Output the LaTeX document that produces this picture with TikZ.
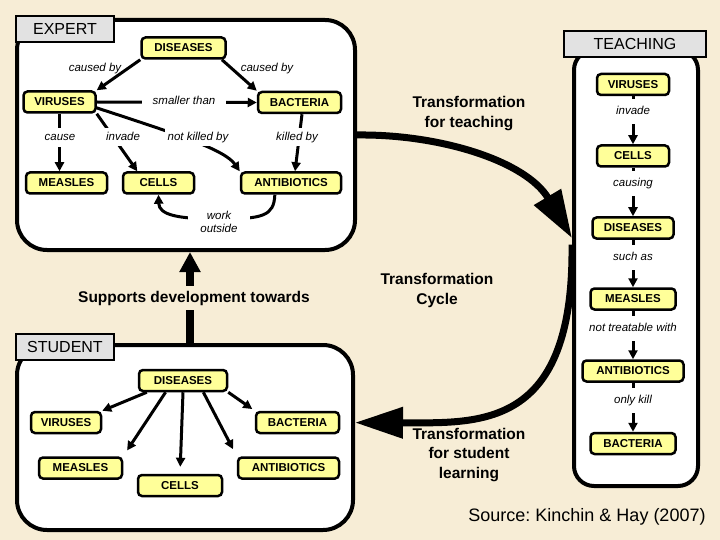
\documentclass[tikz,border=0pt]{standalone}
\usepackage{fontspec}
\setmainfont{Liberation Sans}
\usetikzlibrary{arrows.meta}
\definecolor{bg}{RGB}{247,237,214}
\definecolor{ylw}{RGB}{255,255,153}
\definecolor{gry}{RGB}{226,226,226}
\frenchspacing
\begin{document}
\begin{tikzpicture}[x=1pt,y=-1pt,
  box/.style={draw, line width=2.5pt, fill=ylw, rounded corners=4pt, minimum height=21pt, inner sep=0pt, font=\fontsize{11.5}{13}\selectfont\bfseries},
  panel/.style={draw, line width=4pt, fill=white, rounded corners=30pt, inner sep=0pt},
  ptitle/.style={draw, line width=2.5pt, fill=gry, minimum width=98pt, minimum height=26pt, inner sep=0pt, font=\fontsize{16}{18}\selectfont},
  labbase/.style={fill=white, inner xsep=3pt, inner ysep=3pt, font=\fontsize{11.5}{13}\selectfont\itshape},
  lab/.style={labbase, text height=9pt, text depth=2.5pt},
  tlab/.style={lab, inner ysep=7pt},
  arr/.style={line width=3pt, -{Triangle[length=9pt,width=9pt]}},
  bigarr/.style={line width=7pt, -{Triangle[length=48pt,width=30pt]}},
  bigtxt/.style={font=\fontsize{15.5}{19.5}\selectfont\bfseries, align=center},
]
\useasboundingbox (0,0) rectangle (720,540);
\fill[bg] (0,0) rectangle (720,540);

% panels
\node[panel, minimum width=338pt, minimum height=230pt] (expert) at (186,135) {};
\node[panel, minimum width=336pt, minimum height=185pt] (student) at (185,437.5) {};
\node[panel, rounded corners=20pt, minimum width=124pt, minimum height=436pt] (teach) at (636,268) {};
\node[ptitle] (exT) at (65,29) {EXPERT};
\node[ptitle] (stT) at (65,347) {STUDENT};
\node[ptitle, minimum width=142pt] (teT) at (635,44) {TEACHING};

% expert nodes
\node[box, minimum width=84pt] (eD) at (183.5,48) {DISEASES};
\node[box, minimum width=72pt] (eV) at (59.5,102) {VIRUSES};
\node[box, minimum width=83pt] (eB) at (299.5,102.5) {BACTERIA};
\node[box, minimum width=81pt] (eM) at (66.5,183) {MEASLES};
\node[box, minimum width=71pt] (eC) at (158.5,183) {CELLS};
\node[box, minimum width=100pt] (eA) at (291,183) {ANTIBIOTICS};

\draw[arr] (eD.south west) -- (eV.north east);
\draw[arr] (eD.-17) -- (eB.north west);
\draw[arr] (eV.east) -- (eB.west);
\draw[arr] (eV.south) -- (eV.south |- eM.north);
\draw[arr] (eV.south east) -- (eC.151);
\draw[arr] (eV.-9) .. controls (180,135) and (225,150) .. (eA.north west);
\draw[arr] (eB.282) -- (eA.71);
\draw[arr] (eA.216) .. controls (274,216) and (263,219) .. (219,219) .. controls (178,219) and (159,215) .. (eC.south);

\node[lab, fill=none] (lc1) at (95,68) {caused by};
\node[lab, fill=none] (lc2) at (267,68) {caused by};
\node[lab, inner xsep=11pt] (lsm) at (184,101) {smaller than};
\node[lab, inner ysep=4pt] (lca) at (60,137.5) {cause};
\node[lab] (lin) at (123,137) {invade};
\node[lab] (lnk) at (198,137) {not killed by};
\node[lab] (lkb) at (297,137) {killed by};
\node[labbase, align=center, inner xsep=12pt, inner ysep=1pt] (lwo) at (219,222) {work\\outside};

% teaching nodes
\node[box, minimum width=72pt] (tV) at (633,84.5) {VIRUSES};
\node[box, minimum width=72pt] (tC) at (633,156) {CELLS};
\node[box, minimum width=81pt] (tD) at (633,228) {DISEASES};
\node[box, minimum width=85pt] (tM) at (633,299) {MEASLES};
\node[box, minimum width=101pt] (tA) at (633,371) {ANTIBIOTICS};
\node[box, minimum width=85pt] (tB) at (633,443.5) {BACTERIA};
\draw[arr] (tV) -- (tC);
\draw[arr] (tC) -- (tD);
\draw[arr] (tD) -- (tM);
\draw[arr] (tM) -- (tA);
\draw[arr] (tA) -- (tB);
\node[tlab] (t1) at (633,111.5) {invade};
\node[tlab] (t2) at (633,183.5) {causing};
\node[tlab] (t3) at (633,257.5) {such as};
\node[tlab] (t4) at (633,328.5) {not treatable with};
\node[tlab] (t5) at (633,400.5) {only kill};

% student nodes
\node[box, minimum width=88pt] (sD) at (183,380.5) {DISEASES};
\node[box, minimum width=70pt] (sV) at (66,422.5) {VIRUSES};
\node[box, minimum width=83pt] (sB) at (297.5,422.5) {BACTERIA};
\node[box, minimum width=83pt] (sM) at (80.5,468) {MEASLES};
\node[box, minimum width=84pt] (sC) at (180,485.5) {CELLS};
\node[box, minimum width=101pt] (sA) at (288.5,468) {ANTIBIOTICS};
\draw[arr] (sD.198) -- (sV.north east);
\draw[arr, shorten >=7pt] (sD.214) -- (sM.north east);
\draw[arr, shorten >=7pt] (sD.south) -- (sC.north);
\draw[arr, shorten >=8pt] (sD.330) -- (sA.north west);
\draw[arr, shorten >=3pt] (sD.south east) -- (sB.north west);

% big arrows
\draw[bigarr] (expert.east) .. controls (440,134) and (526,161) .. (teach.155);
\draw[bigarr] (teach.160) .. controls (574,430) and (480,423) .. (student.5.5);
\draw[line width=8pt, -{Triangle[length=20pt,width=20pt]}] ([xshift=5pt]student.north) -- ([xshift=4pt]expert.south);

% texts
\node[bigtxt, fill=bg, inner ysep=5pt] (sup) at (194,298) {Supports development towards};
\node[bigtxt] (tt1) at (469,113.5) {Transformation\\for teaching};
\node[bigtxt] (tt2) at (437,290.5) {Transformation\\Cycle};
\node[bigtxt] (tt3) at (469,455) {Transformation\\for student\\learning};
\node[font=\fontsize{18}{20}\selectfont] (src) at (587,517) {Source: Kinchin \& Hay (2007)};
\end{tikzpicture}
\end{document}
